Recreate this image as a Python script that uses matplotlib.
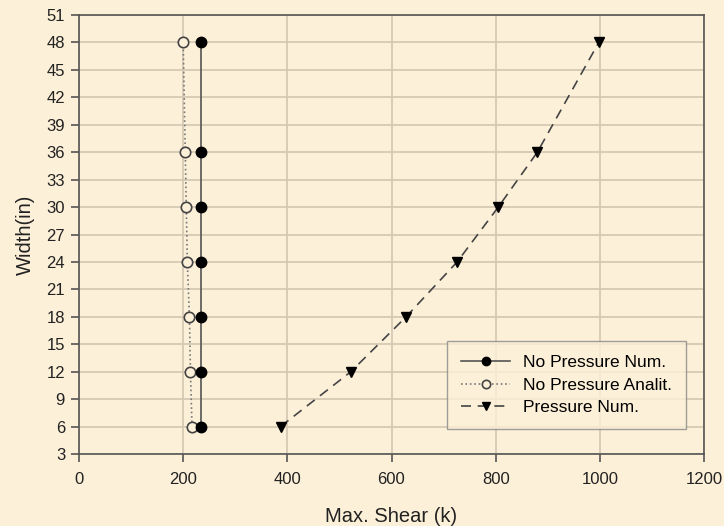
import numpy as np
import matplotlib.pyplot as plt

plt.rcParams['font.family'] = ['Liberation Sans', 'DejaVu Sans']

width = [6, 12, 18, 24, 30, 36, 48]
no_press_num = [234, 234, 234, 234, 234, 234, 234]
no_press_analit = [217, 214, 212, 208, 206, 204, 200]
press_num = [387, 522, 628, 726, 805, 880, 998]

bg = '#fdf0d8'
fig = plt.figure(figsize=(7.24, 5.26), dpi=100, facecolor=bg)
ax = fig.add_axes([79 / 724, 1 - 454 / 526, 625 / 724, 439 / 526], facecolor=bg)

ax.plot(no_press_num, width, '-', color='#555555', lw=1.2, marker='o', ms=7.5,
        mfc='black', mec='black', label='No Pressure Num.', zorder=4)
ax.plot(no_press_analit, width, ':', color='#777777', lw=1.2, marker='o', ms=7.5,
        mfc=bg, mec='#444444', mew=1.2, label='No Pressure Analit.', zorder=3)
ax.plot(press_num, width, '--', color='#444444', lw=1.2, dashes=(6, 4), marker='v', ms=7.5,
        mfc='black', mec='black', label='Pressure Num.', zorder=3)

ax.set_xlim(0, 1200)
ax.set_ylim(3, 51)
ax.set_xticks(np.arange(0, 1201, 200))
ax.set_yticks(np.arange(3, 52, 3))
ax.grid(True, color='#d3c7b2', lw=1.2)
ax.set_axisbelow(True)
for s in ax.spines.values():
    s.set_color('#555555')
    s.set_linewidth(1.2)
ax.tick_params(colors='#555555', labelcolor='#222222', labelsize=12, length=6, width=1.2)
ax.tick_params(axis='x', pad=7)
ax.tick_params(axis='y', pad=4)

ax.set_xlabel('Max. Shear (k)', fontsize=14.5, color='#222222', labelpad=14)
ax.set_ylabel('Width(in)', fontsize=14.5, color='#222222', labelpad=8)

leg = ax.legend(loc='lower right', bbox_to_anchor=(0.971, 0.057), borderaxespad=0,
                fontsize=12.5, frameon=True, fancybox=False, facecolor=bg,
                edgecolor='#888888', handlelength=2.8, handletextpad=0.75,
                borderpad=0.8, labelspacing=0.42, markerscale=0.8)
leg.get_frame().set_linewidth(1.0)

fig.savefig('out.png', dpi=100, facecolor=bg)
